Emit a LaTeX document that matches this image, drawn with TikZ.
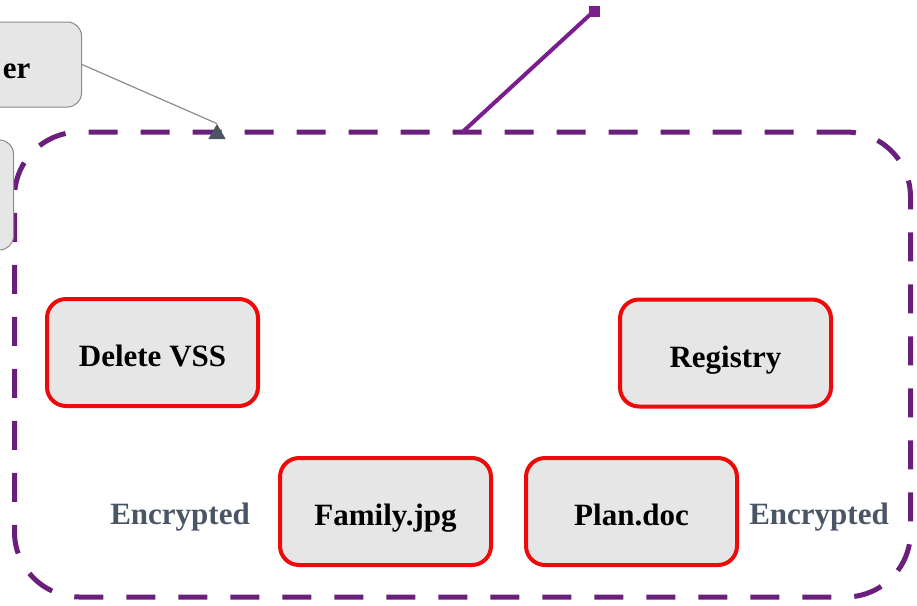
\documentclass[tikz,border=0pt]{standalone}
\usepackage{fontspec}
\setmainfont{Liberation Serif}
\usetikzlibrary{arrows.meta,shapes.geometric}
\definecolor{framepurple}{HTML}{6B1F7C}
\definecolor{linkpurple}{HTML}{7A1E8E}
\definecolor{alertred}{HTML}{EE0A0A}
\definecolor{boxfill}{HTML}{E6E6E6}
\definecolor{slate}{HTML}{4A5566}
\definecolor{edgegray}{HTML}{8C8C8C}
\begin{document}
\begin{tikzpicture}[x=1pt,y=-1pt,
  every node/.style={font=\bfseries\fontsize{31}{36}\selectfont},
  textline/.style={text height=28pt, text depth=0pt},
  alertbox/.style={textline, draw=alertred, line width=4pt, fill=boxfill, rounded corners=19pt,
    minimum width=211pt, minimum height=107pt, inner sep=0pt},
  greybox/.style={draw=edgegray, line width=1pt, fill=boxfill, rounded corners=14pt},
  labeltext/.style={textline, text=slate},
  groupframe/.style={draw=framepurple, line width=5pt, dash pattern=on 29pt off 23pt,
    rounded corners=65pt, inner sep=0pt, outer sep=0pt}]
\useasboundingbox (0,0) rectangle (917,605);
\clip (0,0) rectangle (917,605);

% dashed group container
\node[groupframe, minimum width=896pt, minimum height=465pt] (frame) at (462.5,364.5) {};

% grey nodes running off the left edge
\node[greybox, textline, anchor=east, minimum height=85pt, inner sep=0pt] (er) at (82,64.5)
  {\hspace*{110pt}er\hspace*{51pt}};
\node[greybox, anchor=east, minimum width=120pt, minimum height=110pt] (side) at (14,195) {};

% connector from the grey node to the container
\node[regular polygon, regular polygon sides=3, fill=slate, inner sep=0pt,
  minimum size=20pt] (tip) at (217,134) {};
\draw[edgegray, line width=1.2pt] (er.east) -- (tip.north);

% outgoing link from the container
\node[fill=linkpurple, minimum size=11pt, inner sep=0pt] (linkend) at (594,11) {};
\draw[linkpurple, line width=4pt] (frame.north) -- (linkend.center);

% affected items
\node[alertbox] (vss) at (152.5,352.5) {Delete VSS};
\node[alertbox] (reg) at (725.5,353) {Registry};
\node[alertbox] (fam) at (385.5,511.5) {Family.jpg};
\node[alertbox] (plan) at (631.5,511.5) {Plan.doc};

\node[labeltext] (encl) at (180,510) {Encrypted};
\node[labeltext] (encr) at (819,510) {Encrypted};
\end{tikzpicture}
\end{document}
